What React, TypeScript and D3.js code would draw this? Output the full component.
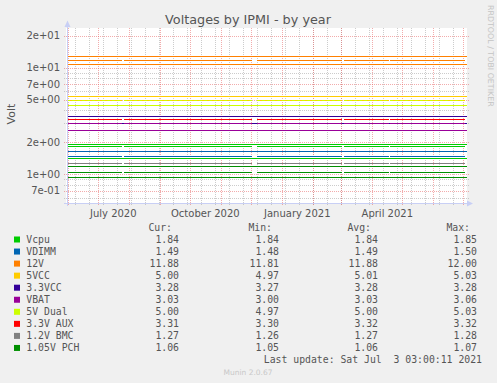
import React from "react";
import * as d3 from "d3";

const W = 497;
const H = 383;

const seriesNames = ["Vcpu", "VDIMM", "12V", "5VCC", "3.3VCC", "VBAT", "5V Dual", "3.3V AUX", "1.2V BMC", "1.05V PCH"];
const seriesColors = ["#00CC00", "#0066B3", "#FF8000", "#FFCC00", "#330099", "#990099", "#CCFF00", "#FF0000", "#808080", "#008F00"];
const curValues = [1.84, 1.49, 11.88, 5.0, 3.28, 3.03, 5.0, 3.31, 1.27, 1.06];
const minValues = [1.84, 1.48, 11.81, 4.97, 3.27, 3.0, 4.97, 3.3, 1.26, 1.05];
const avgValues = [1.84, 1.49, 11.88, 5.01, 3.28, 3.03, 5.0, 3.32, 1.27, 1.06];
const maxValues = [1.85, 1.5, 12.0, 5.03, 3.28, 3.06, 5.03, 3.32, 1.28, 1.07];

// periods with collected data (gaps between them)
const segmentStarts = ["2020-05-30T16:48:00Z", "2020-07-26T12:00:00Z", "2020-12-06T12:00:00Z", "2021-03-03T12:00:00Z", "2021-04-18T12:00:00Z"];
const segmentEnds = ["2020-07-25T00:00:00Z", "2020-12-01T12:00:00Z", "2021-03-02T00:00:00Z", "2021-04-17T12:00:00Z", "2021-07-03T03:00:00Z"];

// continuous limit lines
const limitValues = [13.0, 10.9, 5.42, 4.46, 3.54, 3.0, 2.59, 1.92, 1.65, 1.41, 1.2, 1.19, 0.94];
const limitColors = ["#FF8000", "#FF8000", "#FFCC00", "#CCFF00", "#330099", "#330099", "#990099", "#00CC00", "#0066B3", "#00CC00", "#008F00", "#008F00", "#008F00"];

const yMajorValues = [0.7, 1, 2, 5, 7, 10, 20];
const yMajorLabels = ["7e-01", "1e+00", "2e+00", "5e+00", "7e+00", "1e+01", "2e+01"];
const yMinorValues = [0.6, 0.8, 0.9, 3, 4, 6, 8, 9];

const xLabelDates = ["2020-07-16T00:00:00Z", "2020-10-16T00:00:00Z", "2021-01-16T00:00:00Z", "2021-04-16T00:00:00Z"];
const xLabelTexts = ["July 2020", "October 2020", "January 2021", "April 2021"];

const timeStart = new Date("2020-05-30T16:48:00Z");
const timeEnd = new Date("2021-07-04T16:48:00Z");

const PL = 67;
const PR = 467;
const PT = 28;
const PB = 203.3;

export default function App() {
  const x = d3.scaleUtc().domain([timeStart, timeEnd]).range([PL, PR]);
  const y = d3.scaleLog().domain([0.5337, 23.64]).range([PB, PT]);
  const snap = (v: number) => Math.round(v) + 0.5;
  const snapX = (v: number) => Math.floor(v) + 0.5;

  const months = d3.utcMonth.range(timeStart, timeEnd);
  const mondays = d3.utcMonday.range(timeStart, timeEnd).filter((_, i) => i % 2 === 1);

  const lineGen = d3
    .line<{ t: Date; v: number | null }>()
    .defined((d) => d.v !== null)
    .x((d) => x(d.t))
    .y((d) => snap(y(d.v as number)));

  const seriesPoints = (v: number) => {
    const pts: { t: Date; v: number | null }[] = [];
    segmentStarts.forEach((s, i) => {
      pts.push({ t: new Date(s), v });
      pts.push({ t: new Date(segmentEnds[i]), v });
      pts.push({ t: new Date(segmentEnds[i]), v: null });
    });
    return pts;
  };

  const font = "DejaVu Sans, sans-serif";
  const mono = "DejaVu Sans Mono, monospace";
  const txt = "#555";
  const rowY = (i: number) => 243 + i * 12.05;

  return (
    <svg width={W} height={H} style={{ position: "fixed", left: 0, top: 0 }} xmlns="http://www.w3.org/2000/svg">
      <rect x={0} y={0} width={W} height={H} fill="#F0F0F0" />
      <rect x={66} y={PT} width={PR - 66} height={PB - PT} fill="#FFFFFF" />

      <text x={248} y={24} textAnchor="middle" fontFamily={font} fontSize={12.8} fill={txt}>
        Voltages by IPMI - by year
      </text>
      <text transform="translate(488,5) rotate(90)" fontFamily={font} fontSize={7.9} fill="#C4C4C4">
        RRDTOOL / TOBI OETIKER
      </text>
      <text transform="translate(14.5,114) rotate(-90)" textAnchor="middle" fontFamily={font} fontSize={11} fill={txt}>
        Volt
      </text>

      {/* minor grid */}
      <g stroke="rgba(170,170,170,0.6)" strokeWidth={1} strokeDasharray="1,1" shapeRendering="crispEdges">
        {yMinorValues.map((v) => (
          <line key={"hy" + v} x1={64} x2={469} y1={snap(y(v))} y2={snap(y(v))} />
        ))}
        {mondays.map((d) => (
          <line key={"vx" + d.getTime()} x1={snapX(x(d))} x2={snapX(x(d))} y1={PT} y2={206} />
        ))}
      </g>
      {/* major grid */}
      <g stroke="rgba(230,90,90,0.5)" strokeWidth={1} strokeDasharray="1,1" shapeRendering="crispEdges">
        {yMajorValues.map((v) => (
          <line key={"hm" + v} x1={64} x2={469} y1={snap(y(v))} y2={snap(y(v))} />
        ))}
        {months.map((d) => (
          <line key={"vm" + d.getTime()} x1={snapX(x(d))} x2={snapX(x(d))} y1={PT} y2={206} />
        ))}
      </g>

      {/* y labels */}
      {yMajorValues.map((v, i) => (
        <text key={"yl" + v} x={60} y={y(v) + 3.6} textAnchor="end" fontFamily={font} fontSize={10} fill={txt}>
          {yMajorLabels[i]}
        </text>
      ))}
      {/* x labels */}
      {xLabelDates.map((d, i) => (
        <text key={"xl" + d} x={x(new Date(d))} y={217} textAnchor="middle" fontFamily={font} fontSize={10} fill={txt}>
          {xLabelTexts[i]}
        </text>
      ))}

      {/* limit lines */}
      <g strokeWidth={1} shapeRendering="crispEdges">
        {limitValues.map((v, i) => (
          <line key={"lim" + i} x1={PL} x2={PR} y1={snap(y(v))} y2={snap(y(v))} stroke={limitColors[i]} />
        ))}
      </g>

      {/* data lines */}
      <g fill="none" strokeWidth={1} shapeRendering="crispEdges">
        {seriesNames.map((n, i) => (
          <path
            key={"s" + n}
            d={lineGen(seriesPoints(avgValues[i])) || ""}
            stroke={seriesColors[i]}
            strokeDasharray={n === "5V Dual" ? "3,2" : undefined}
          />
        ))}
      </g>

      {/* axes */}
      <g stroke="#C8CFF5" strokeWidth={1} shapeRendering="crispEdges">
        <line x1={67.5} x2={67.5} y1={26} y2={206} />
        <line x1={64} x2={469} y1={203.5} y2={203.5} />
      </g>
      <polygon points="64.5,27 70.5,27 67.5,20.5" fill="#C8CFF5" />
      <polygon points="467,200.5 467,206.5 473,203.5" fill="#C8CFF5" />

      {/* legend */}
      <g fontFamily={mono} fontSize={9.8} fill={txt} style={{ whiteSpace: "pre" }}>
        <text x={172} y={230.6} textAnchor="end">Cur:</text>
        <text x={272} y={230.6} textAnchor="end">Min:</text>
        <text x={371} y={230.6} textAnchor="end">Avg:</text>
        <text x={470} y={230.6} textAnchor="end">Max:</text>
        {seriesNames.map((n, i) => (
          <g key={"lg" + n}>
            <rect x={14} y={rowY(i) - 6.5} width={6} height={6} fill={seriesColors[i]} />
            <text x={26.3} y={rowY(i)}>{n}</text>
            <text x={179} y={rowY(i)} textAnchor="end">{curValues[i].toFixed(2)}</text>
            <text x={279} y={rowY(i)} textAnchor="end">{minValues[i].toFixed(2)}</text>
            <text x={378} y={rowY(i)} textAnchor="end">{avgValues[i].toFixed(2)}</text>
            <text x={477} y={rowY(i)} textAnchor="end">{maxValues[i].toFixed(2)}</text>
          </g>
        ))}
        <text x={482} y={362.7} textAnchor="end" xmlSpace="preserve">{"Last update: Sat Jul  3 03:00:11 2021"}</text>
      </g>
      <text x={248} y={375} textAnchor="middle" fontFamily={font} fontSize={7.5} fill="#C8C8C8">
        Munin 2.0.67
      </text>
    </svg>
  );
}
